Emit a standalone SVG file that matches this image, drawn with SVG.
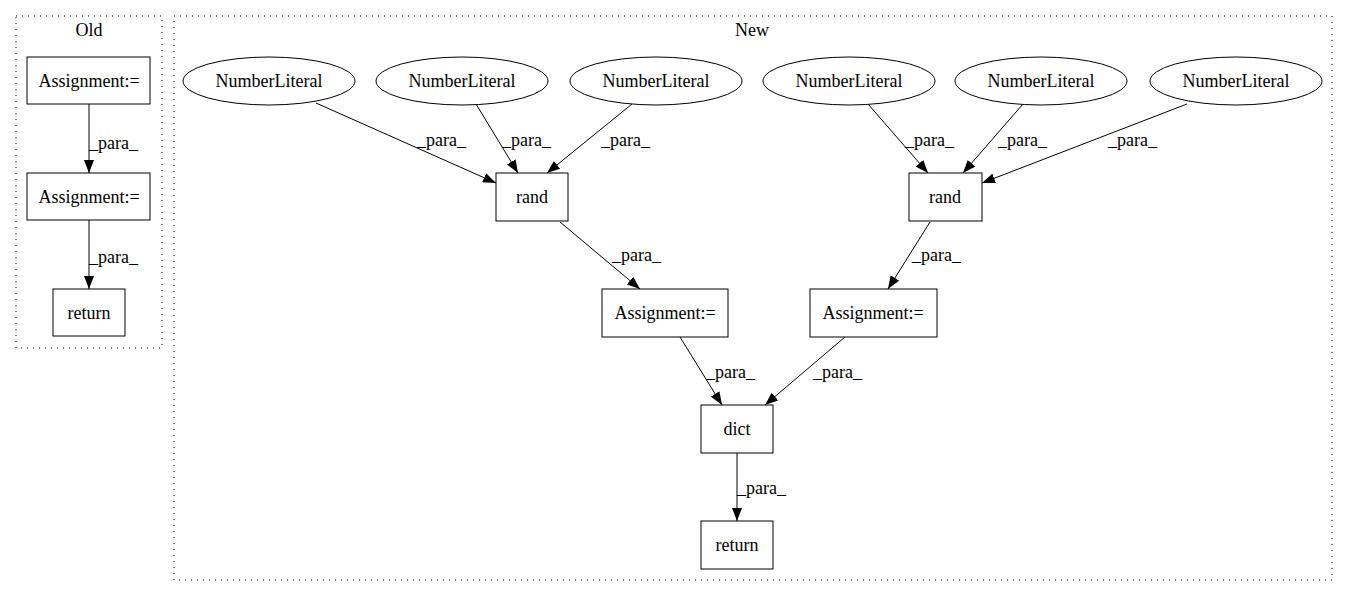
<svg xmlns="http://www.w3.org/2000/svg" width="1348" height="596" viewBox="0 0 1348 596">
<style>
text{font-family:"Liberation Serif","Times New Roman",serif;font-size:18px;fill:#000}
.n{fill:#fff;stroke:#000;stroke-width:1}
.c{fill:none;stroke:#000;stroke-width:1;stroke-dasharray:1,5}
.e{fill:none;stroke:#000;stroke-width:1;marker-end:url(#a)}
.m{text-anchor:middle}
</style>
<defs>
<marker id="a" viewBox="0 0 13 10" refX="13" refY="5" markerWidth="13" markerHeight="10" markerUnits="userSpaceOnUse" orient="auto">
<path d="M0,0 L13,5 L0,10 z" fill="#000"/>
</marker>
</defs>
<rect width="1348" height="596" fill="#fff"/>
<g id="cluster_old">
<rect class="c" x="16" y="16" width="146" height="332"/>
<text class="m" x="89" y="36">Old</text>
</g>
<g id="cluster_new">
<rect class="c" x="174" y="16" width="1158" height="564"/>
<text class="m" x="752" y="36">New</text>
</g>
<g id="edges">
<path class="e" d="M89,104 L89,173"/>
<text x="89" y="149">_para_</text>
<path class="e" d="M89,220 L89,289"/>
<text x="89" y="263">_para_</text>
<path class="e" d="M316,103 L496,183"/>
<text x="417" y="146">_para_</text>
<path class="e" d="M476,104 L518,173"/>
<text x="502" y="146">_para_</text>
<path class="e" d="M632,104 L547,173"/>
<text x="601" y="146">_para_</text>
<path class="e" d="M868,104 L928,173"/>
<text x="905" y="146">_para_</text>
<path class="e" d="M1023,104 L963,173"/>
<text x="998" y="146">_para_</text>
<path class="e" d="M1187,104 L982,183"/>
<text x="1108" y="146">_para_</text>
<path class="e" d="M560,222 L640,289"/>
<text x="612" y="261">_para_</text>
<path class="e" d="M930,222 L888,289"/>
<text x="912" y="261">_para_</text>
<path class="e" d="M680,337 L722,405"/>
<text x="706" y="378">_para_</text>
<path class="e" d="M845,337 L765,405"/>
<text x="813" y="378">_para_</text>
<path class="e" d="M737,453 L737,521"/>
<text x="737" y="494">_para_</text>
</g>
<g id="old_assign1"><rect class="n" x="27" y="57" width="123" height="47"/><text class="m" x="89" y="87">Assignment:=</text></g>
<g id="old_assign2"><rect class="n" x="27" y="173" width="123" height="47"/><text class="m" x="89" y="203">Assignment:=</text></g>
<g id="old_return"><rect class="n" x="53" y="289" width="72" height="47"/><text class="m" x="89" y="319">return</text></g>
<g id="nl1"><ellipse class="n" cx="269" cy="81" rx="86" ry="24"/><text class="m" x="269" y="87">NumberLiteral</text></g>
<g id="nl2"><ellipse class="n" cx="462" cy="81" rx="86" ry="24"/><text class="m" x="462" y="87">NumberLiteral</text></g>
<g id="nl3"><ellipse class="n" cx="656" cy="81" rx="86" ry="24"/><text class="m" x="656" y="87">NumberLiteral</text></g>
<g id="nl4"><ellipse class="n" cx="849" cy="81" rx="86" ry="24"/><text class="m" x="849" y="87">NumberLiteral</text></g>
<g id="nl5"><ellipse class="n" cx="1041" cy="81" rx="86" ry="24"/><text class="m" x="1041" y="87">NumberLiteral</text></g>
<g id="nl6"><ellipse class="n" cx="1236" cy="81" rx="86" ry="24"/><text class="m" x="1236" y="87">NumberLiteral</text></g>
<g id="rand1"><rect class="n" x="496" y="173" width="72" height="48"/><text class="m" x="532" y="203">rand</text></g>
<g id="rand2"><rect class="n" x="909" y="173" width="73" height="48"/><text class="m" x="945" y="203">rand</text></g>
<g id="new_assign1"><rect class="n" x="602" y="289" width="126" height="48"/><text class="m" x="665" y="319">Assignment:=</text></g>
<g id="new_assign2"><rect class="n" x="810" y="289" width="127" height="48"/><text class="m" x="873" y="319">Assignment:=</text></g>
<g id="dict"><rect class="n" x="701" y="405" width="72" height="48"/><text class="m" x="737" y="435">dict</text></g>
<g id="new_return"><rect class="n" x="701" y="521" width="72" height="48"/><text class="m" x="737" y="551">return</text></g>
</svg>
